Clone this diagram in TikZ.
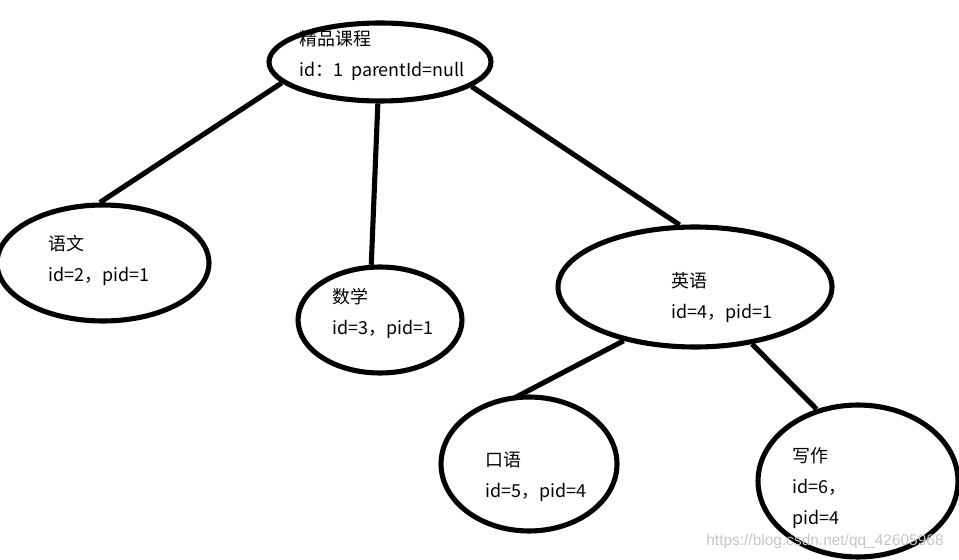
\documentclass[tikz,border=0pt]{standalone}
\usepackage{fontspec}
\setmainfont{Noto Sans CJK SC}
\newfontfamily\wmfont{Liberation Sans}
\usetikzlibrary{shapes.geometric}

\begin{document}
\begin{tikzpicture}[x=0.02cm,y=-0.02cm,
  every node/.style={font=\fontsize{10.2pt}{17.6pt}\selectfont},
  blob/.style={draw,ellipse,line width=2.9pt,inner sep=0pt},
  lbl/.style={anchor=north west,align=left,inner sep=0pt},
  edge/.style={line width=2.9pt}]
\useasboundingbox (0,0) rectangle (959,560);
% ellipses
\node[blob,minimum width=4.44cm,minimum height=1.56cm] (r) at (380,62) {};
\node[blob,minimum width=4.24cm,minimum height=2.32cm] (c1) at (103,263) {};
\node[blob,minimum width=3.28cm,minimum height=2.12cm] (c2) at (380,320) {};
\node[blob,minimum width=5.48cm,minimum height=2.40cm] (c3) at (695,287) {};
\node[blob,minimum width=3.52cm,minimum height=2.68cm] (c31) at (529,464) {};
\node[blob,minimum width=4.00cm,minimum height=3.04cm] (c32) at (858,481) {};
% texts
\node[lbl] (tr) at (299,30) {精品课程\\id：1\ \ parentId=null};
\node[lbl] (t1) at (48,235) {语文\\id=2，pid=1};
\node[lbl] (t2) at (332,288) {数学\\id=3，pid=1};
\node[lbl] (t3) at (671,272) {英语\\id=4，pid=1};
\node[lbl] (t31) at (485,452) {口语\\id=5，pid=4};
\node[lbl] (t32) at (792,447) {写作\\id=6，\\pid=4};
% edges
\draw[edge] (r.192)--(c1.93);
\draw[edge] (r.267)--(c2.99);
\draw[edge] (r.345)--(c3.104);
\draw[edge,shorten >=-0.16cm] (c3.217)--(c31.97);
\draw[edge] (c3.315)--(c32.120);
\node[anchor=west,inner sep=0pt,text=gray!45,font=\wmfont\fontsize{8.8pt}{10pt}\selectfont] (wm) at (706,541) {https://blog.csdn.net/qq\_42605968};
\end{tikzpicture}
\end{document}
